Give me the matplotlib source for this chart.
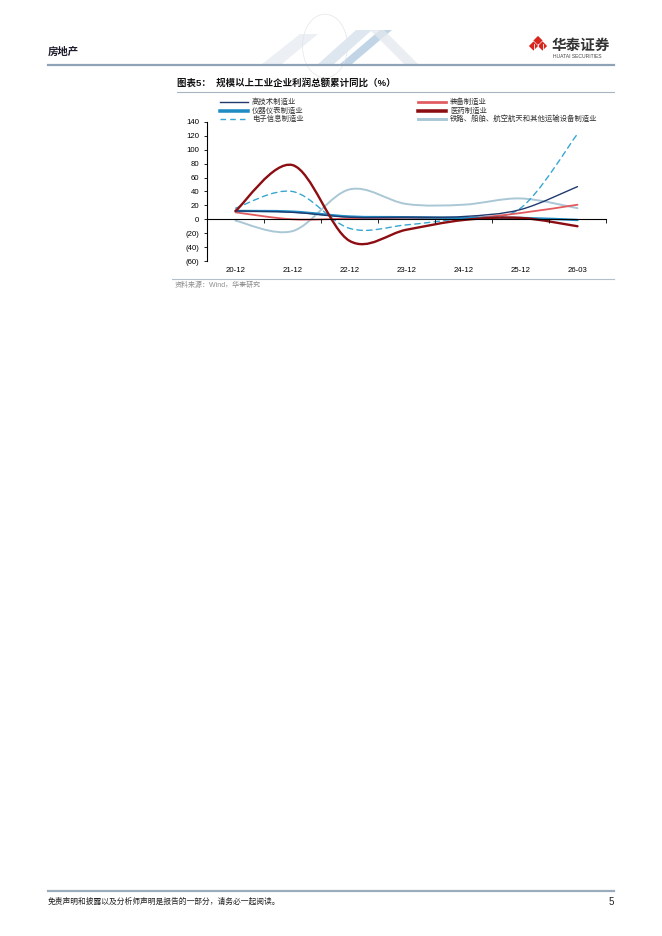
import numpy as np
import matplotlib.pyplot as plt
from matplotlib.path import Path
from matplotlib.patches import PathPatch, Polygon, Circle
from matplotlib.lines import Line2D
from matplotlib.ticker import FuncFormatter

plt.rcParams['font.family'] = ['Liberation Sans', 'Noto Sans CJK SC', 'DejaVu Sans']

# ---- data (% yoy cumulative) ----
periods = ['20-12', '21-12', '22-12', '23-12', '24-12', '25-12', '26-03']
hi_tech = [12, 10, 3, 3, 4, 14, 47]
equipment = [10, 0, 1, 2, 1, 9, 21]
instrument = [12, 11, 4, 3, 2, 2, -1]
pharma = [12, 78, -31, -15, -1, 2, -10]
electronic = [16, 40, -13, -8, 2, 16, 123]
transport = [-2, -17, 43, 22, 21, 30, 16]

W, H = 662, 936


def fx(x):
    return x / W


def fy(y):
    return 1 - y / H


def smooth_path(xs, ys):
    # Excel-style smoothed line: Catmull-Rom tangents as cubic Bezier segments
    pts = np.column_stack([xs, ys]).astype(float)
    tang = np.zeros_like(pts)
    tang[1:-1] = (pts[2:] - pts[:-2]) / 2
    tang[0] = (pts[1] - pts[0]) / 2
    tang[-1] = (pts[-1] - pts[-2]) / 2
    verts = [pts[0]]
    codes = [Path.MOVETO]
    for i in range(len(pts) - 1):
        verts += [pts[i] + tang[i] / 3, pts[i + 1] - tang[i + 1] / 3, pts[i + 1]]
        codes += [Path.CURVE4] * 3
    return Path(verts, codes)


fig = plt.figure(figsize=(W / 100, H / 100), dpi=100)

# ---- page header ----
fig.text(fx(48), fy(52), '房地产', fontsize=7.5, fontweight='bold', color='#1c1c2c',
         va='center', family=['Noto Sans CJK SC'])
fig.add_artist(Line2D([fx(48), fx(614)], [fy(64.5), fy(64.5)], color='#8ea3b5', lw=1.6))

# faint decorative banner in the middle of the header
for poly, col in [
    ([(262, 64), (282, 64), (318, 34), (300, 34)], '#e6ebf1'),
    ([(318, 64), (334, 64), (372, 30), (356, 30)], '#d3e0ec'),
    ([(340, 64), (352, 64), (392, 30), (380, 30)], '#aec7df'),
    ([(370, 30), (384, 30), (418, 64), (404, 64)], '#e3e8ee'),
]:
    fig.add_artist(Polygon([(fx(a), fy(b)) for a, b in poly], closed=True,
                           transform=fig.transFigure, color=col, lw=0, alpha=0.75))
fig.add_artist(Circle((fx(325), fy(46)), 0.034, transform=fig.transFigure,
                      fill=False, ec='#e2e5e9', lw=0.5))

# logo
for cx, cy in [(538, 40.5), (533.5, 46), (542.5, 46)]:
    d = 4.6
    fig.add_artist(Polygon([(fx(cx), fy(cy - d)), (fx(cx + d), fy(cy)),
                            (fx(cx), fy(cy + d)), (fx(cx - d), fy(cy))],
                           closed=True, transform=fig.transFigure, color='#d7261e', lw=0))
for lx in [533.5, 538, 542.5]:
    fig.add_artist(Line2D([fx(lx), fx(lx)], [fy(44), fy(51)], color='white', lw=0.6))
fig.text(fx(552), fy(45), '华泰证券', fontsize=10.5, fontweight='bold', color='#333333',
         va='center', family=['Noto Sans CJK SC'])
fig.text(fx(553), fy(57), 'HUATAI SECURITIES', fontsize=3.6, color='#444444', va='center')

# ---- chart title ----
fig.text(fx(177), fy(83), '图表5：  规模以上工业企业利润总额累计同比（%）', fontsize=6.8,
         fontweight='bold', color='#111111', va='center')
fig.add_artist(Line2D([fx(177), fx(614)], [fy(92), fy(92)], color='#a7b4c0', lw=0.8))

# ---- plot ----
ax = fig.add_axes([fx(207), fy(261), 399 / W, 139 / H])
x = np.arange(len(periods))

series = [
    ('铁路、船舶、航空航天和其他运输设备制造业', transport, '#aac7d6', 1.4, '-'),
    ('电子信息制造业', electronic, '#37a6d3', 1.0, (0, (4, 3))),
    ('装备制造业', equipment, '#e25a5e', 1.3, '-'),
    ('仪器仪表制造业', instrument, '#1e8bc3', 1.7, '-'),
    ('高技术制造业', hi_tech, '#1f3a6e', 1.0, '-'),
    ('医药制造业', pharma, '#8c0d12', 1.7, '-'),
]
for name, vals, col, lw, ls in series:
    ax.add_patch(PathPatch(smooth_path(x, vals), fill=False, ec=col, lw=lw, ls=ls,
                           capstyle='round', joinstyle='round'))

ax.set_xlim(-0.5, len(periods) - 0.5)
ax.set_ylim(-60, 140)
ax.set_yticks(range(-60, 141, 20))
ax.yaxis.set_major_formatter(FuncFormatter(
    lambda v, p: f'({abs(int(v))})' if v < 0 else f'{int(v)}'))
for s in ['top', 'right']:
    ax.spines[s].set_visible(False)
ax.spines['bottom'].set_position(('data', 0))
ax.spines['bottom'].set_linewidth(0.8)
ax.spines['left'].set_linewidth(0.8)
ax.set_xticks(np.arange(0.5, len(periods), 1))
ax.set_xticklabels([])
ax.tick_params(axis='x', direction='out', length=3, width=0.6)
ax.tick_params(axis='y', direction='out', length=2.5, width=0.6, labelsize=5.6, pad=3)

sec = ax.secondary_xaxis(0.0)
sec.set_xticks(x, periods)
sec.spines['bottom'].set_visible(False)
sec.tick_params(length=0, pad=4, labelsize=5.6)

# ---- legend (two columns) ----
legend_cols = {
    '高技术制造业': (220, 102), '仪器仪表制造业': (220, 110.5), '电子信息制造业': (220, 119),
    '装备制造业': (418, 102), '医药制造业': (418, 110.5),
    '铁路、船舶、航空航天和其他运输设备制造业': (418, 119),
}
for name, vals, col, lw, ls in series:
    lx, ly = legend_cols[name]
    hlw = lw * 1.5 if lw > 1.2 else lw
    fig.add_artist(Line2D([fx(lx), fx(lx + 28)], [fy(ly), fy(ly)], color=col, lw=hlw, ls=ls))
    fig.text(fx(lx + 32), fy(ly), name, fontsize=5.3, color='#333333', va='center',
             family=['Noto Sans CJK SC'])

# ---- source ----
fig.add_artist(Line2D([fx(172), fx(614)], [fy(279), fy(279)], color='#b3c0cc', lw=0.8))
fig.text(fx(175), fy(285), '资料来源：Wind，华泰研究', fontsize=5, color='#8c8c8c', va='center')

# ---- footer ----
fig.add_artist(Line2D([fx(48), fx(614)], [fy(891), fy(891)], color='#9aabbb', lw=1.6))
fig.text(fx(48), fy(902), '免责声明和披露以及分析师声明是报告的一部分，请务必一起阅读。', fontsize=5.6,
         color='#222222', va='center', family=['Noto Sans CJK SC'])
fig.text(fx(614), fy(902), '5', fontsize=7, color='#222222', va='center', ha='right')

fig.savefig('out.png', dpi=100)
